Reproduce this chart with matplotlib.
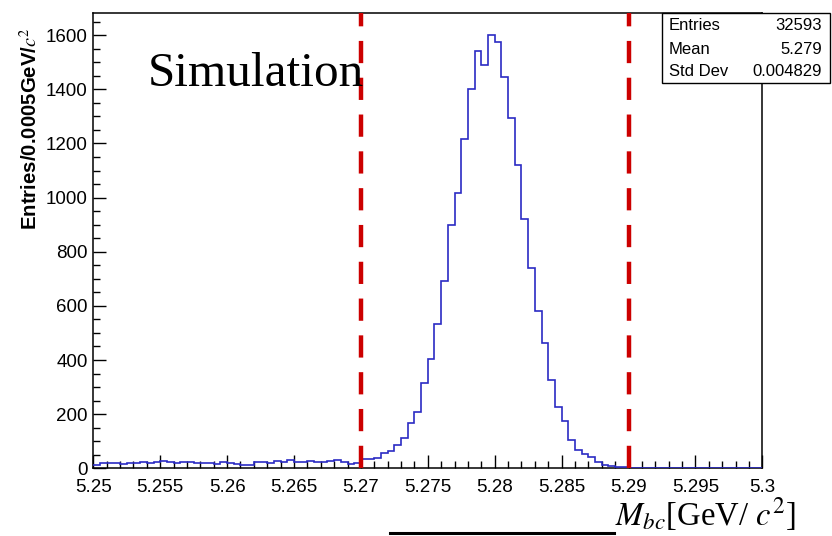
import numpy as np
import matplotlib
matplotlib.use('Agg')
import matplotlib.pyplot as plt
from matplotlib.patches import Rectangle
from matplotlib.lines import Line2D
from matplotlib.ticker import MultipleLocator, FixedLocator, FixedFormatter

plt.rcParams['mathtext.fontset'] = 'stix'
plt.rcParams['lines.scale_dashes'] = False

# ---------------- data ----------------
bin_lo, bin_hi, n_bins = 5.25, 5.30, 100
counts = [
    14, 18, 18, 18, 17, 19, 18, 22, 18, 22,
    27, 22, 20, 24, 22, 20, 19, 18, 17, 24,
    20, 15, 13, 14, 22, 24, 20, 26, 24, 30,
    25, 22, 27, 25, 22, 28, 30, 24, 17, 20,
    33, 33, 38, 58, 64, 85, 112, 169, 208, 315,
    402, 532, 691, 898, 1017, 1216, 1400, 1542, 1489, 1601,
    1575, 1444, 1296, 1120, 920, 740, 580, 464, 325, 228,
    175, 106, 68, 52, 40, 24, 13, 9, 5, 3,
    1, 1, 0, 1, 0, 0, 1, 0, 0, 0,
    0, 1, 0, 0, 0, 0, 0, 0, 0, 0,
]
cut_lines = [5.27, 5.29]
x_ticks = [5.25, 5.255, 5.26, 5.265, 5.27, 5.275, 5.28, 5.285, 5.29, 5.295, 5.3]
x_tick_labels = ['5.25', '5.255', '5.26', '5.265', '5.27', '5.275', '5.28',
                 '5.285', '5.29', '5.295', '5.3']
y_ticks = [0, 200, 400, 600, 800, 1000, 1200, 1400, 1600]
y_tick_labels = ['0', '200', '400', '600', '800', '1000', '1200', '1400', '1600']
stats_names = ['Entries', 'Mean', 'Std Dev']
stats_values = ['32593', '5.279', '0.004829']
y_max = 1681

# ---------------- figure ----------------
W, H = 832, 536
fig = plt.figure(figsize=(W / 100, H / 100), dpi=100)
fig.patch.set_facecolor('white')

def fx(px):
    return px / W

def fy(py):
    return 1 - py / H

ax = fig.add_axes([fx(93.3), fy(468.3), fx(762.3) - fx(93.3), fy(13.3) - fy(468.3)])

edges = np.linspace(bin_lo, bin_hi, n_bins + 1)
ax.stairs(counts, edges, baseline=None, color='#2b2bc4', linewidth=1.2, zorder=3)

for xc in cut_lines:
    ax.axvline(xc, color='#cc0000', linewidth=3.2, dashes=(16, 10.5), zorder=4)

ax.set_xlim(bin_lo, bin_hi)
ax.set_ylim(0, y_max)

ax.xaxis.set_major_locator(FixedLocator(x_ticks))
ax.xaxis.set_major_formatter(FixedFormatter(x_tick_labels))
ax.xaxis.set_minor_locator(MultipleLocator(0.001))
ax.yaxis.set_major_locator(FixedLocator(y_ticks))
ax.yaxis.set_major_formatter(FixedFormatter(y_tick_labels))
ax.yaxis.set_minor_locator(MultipleLocator(50))

tick_font = 'Liberation Sans'
ax.tick_params(which='major', direction='in', length=9.5, width=1.0,
               labelsize=13.5, top=False, right=False)
ax.tick_params(axis='x', which='major', pad=8)
ax.tick_params(axis='y', which='major', pad=4)
ax.tick_params(which='minor', direction='in', length=5, width=1.0,
               top=False, right=False)
for lab in ax.get_xticklabels() + ax.get_yticklabels():
    lab.set_fontfamily(tick_font)

for sp in ax.spines.values():
    sp.set_linewidth(1.1)
    sp.set_color('black')

# y label
fig.text(fx(30), fy(27), r'Entries/0.0005GeV/$c^2$', rotation=90,
         ha='center', va='top', fontsize=14.7, fontweight='bold',
         family='Liberation Sans')

# "Simulation"
fig.text(fx(148), fy(86), 'Simulation', ha='left', va='baseline',
         fontsize=35.5, family='Liberation Serif', zorder=5)

# stats box
fig.add_artist(Rectangle((fx(662), fy(82.7)), fx(830) - fx(662), fy(13.3) - fy(82.7),
                         transform=fig.transFigure, facecolor='white',
                         edgecolor='black', linewidth=1.0, zorder=6))
row_y = [26, 50, 72]
for name, val, ry in zip(stats_names, stats_values, row_y):
    fig.text(fx(669), fy(ry), name, ha='left', va='center', fontsize=12,
             family='Liberation Sans', zorder=7)
    fig.text(fx(822), fy(ry), val, ha='right', va='center', fontsize=12,
             family='Liberation Sans', zorder=7)

# bottom x-axis title with underline
fig.text(fx(615), fy(525), r'$M_{bc}$[GeV/ $c^2$]', ha='left', va='baseline',
         fontsize=23.5, family='Liberation Serif')
fig.add_artist(Line2D([fx(390), fx(614)], [fy(533), fy(533)],
                      transform=fig.transFigure, color='black', linewidth=2.2))

fig.savefig('out.png', dpi=100)
